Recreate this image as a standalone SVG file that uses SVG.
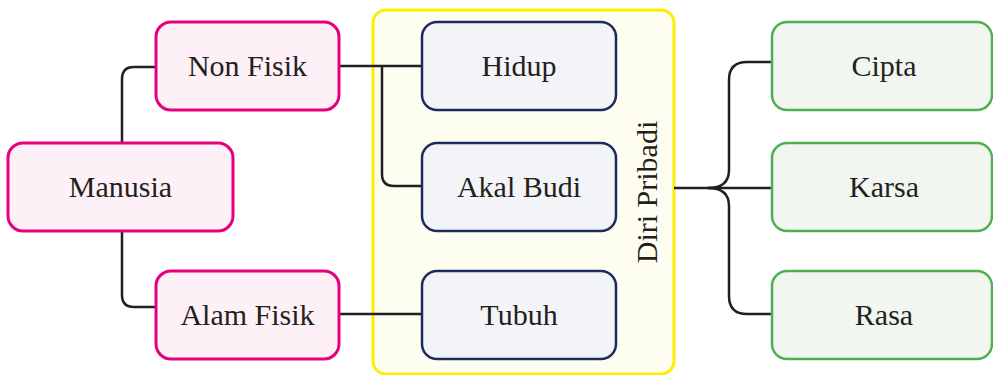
<svg xmlns="http://www.w3.org/2000/svg" width="993" height="375" viewBox="0 0 993 375">
<style>
text{font-family:"Liberation Serif","Times New Roman",serif;font-size:30px;fill:#231f20;text-anchor:middle}
.pink{fill:#fdf0f7;stroke:#e6007e;stroke-width:3}
.navy{fill:#f3f4f7;stroke:#1f2a5c;stroke-width:2.5}
.green{fill:#f1f6f0;stroke:#4caf50;stroke-width:2.5}
.wire{fill:none;stroke:#231f20;stroke-width:2.5}
</style>
<rect width="993" height="375" fill="#ffffff"/>
<g id="diri-pribadi">
<rect x="373" y="10" width="301" height="364" rx="13" fill="#fdfdf0" stroke="#ffed00" stroke-width="3"/>
<text transform="translate(657,192) rotate(-90)">Diri Pribadi</text>
</g>
<g id="connectors">
<path class="wire" d="M122,143 V79 Q122,67 134,67 H156"/>
<path class="wire" d="M122,231 V295 Q122,307 134,307 H156"/>
<path class="wire" d="M339,66 H422"/>
<path class="wire" d="M382,66 V174 Q382,186 394,186 H422"/>
<path class="wire" d="M339,314 H422"/>
<path class="wire" d="M674,188 H772"/>
<path class="wire" d="M708,188 Q729,188 729,170 V80 Q729,62 747,62 H772"/>
<path class="wire" d="M708,188 Q729,188 729,206 V296 Q729,314 747,314 H772"/>
</g>
<g id="manusia"><rect class="pink" x="8" y="143" width="225" height="88" rx="15"/><text x="120.5" y="197">Manusia</text></g>
<g id="non-fisik"><rect class="pink" x="156" y="22" width="183" height="88" rx="15"/><text x="247.5" y="76">Non Fisik</text></g>
<g id="alam-fisik"><rect class="pink" x="156" y="271" width="183" height="88" rx="15"/><text x="247.5" y="325">Alam Fisik</text></g>
<g id="hidup"><rect class="navy" x="422" y="22" width="194" height="88" rx="15"/><text x="519" y="76">Hidup</text></g>
<g id="akal-budi"><rect class="navy" x="422" y="143" width="194" height="88" rx="15"/><text x="519" y="197">Akal Budi</text></g>
<g id="tubuh"><rect class="navy" x="422" y="271" width="194" height="88" rx="15"/><text x="519" y="325">Tubuh</text></g>
<g id="cipta"><rect class="green" x="772" y="22" width="220" height="88" rx="15"/><text x="884" y="76">Cipta</text></g>
<g id="karsa"><rect class="green" x="772" y="143" width="220" height="88" rx="15"/><text x="884" y="197">Karsa</text></g>
<g id="rasa"><rect class="green" x="772" y="271" width="220" height="88" rx="15"/><text x="884" y="325">Rasa</text></g>
</svg>
